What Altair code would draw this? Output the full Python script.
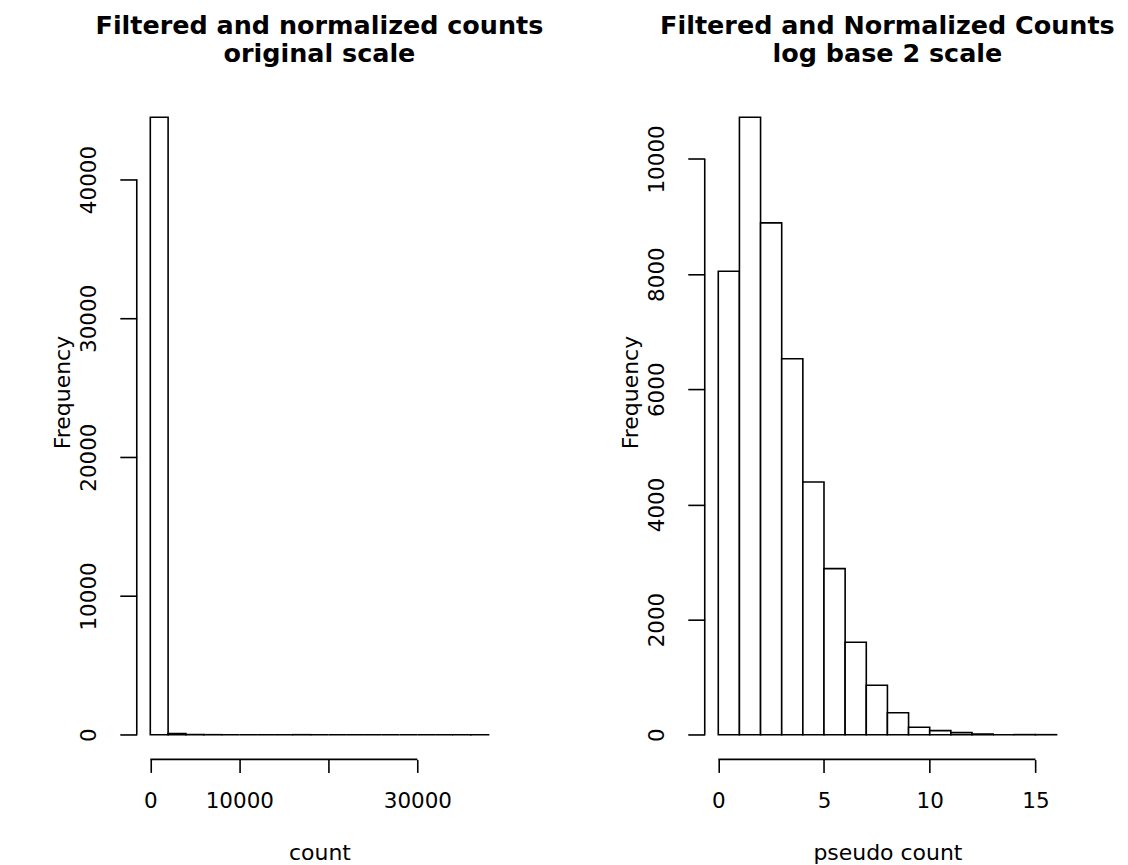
import altair as alt
import pandas as pd

# ---- data ----
left_breaks = [0, 2000, 4000, 6000, 8000, 10000, 12000, 14000, 16000, 18000, 20000,
               22000, 24000, 26000, 28000, 30000, 32000, 34000, 36000, 38000]
left_counts = [44480, 90, 8, 3, 0, 0, 0, 0, 2, 0, 0, 0, 0, 0, 0, 0, 0, 1, 1]

right_breaks = [0, 1, 2, 3, 4, 5, 6, 7, 8, 9, 10, 11, 12, 13, 14, 15, 16]
right_counts = [8050, 10723, 8890, 6530, 4390, 2885, 1605, 858, 382, 130, 72, 36, 12, 0, 2, 1]

left_xticks = [0, 10000, 20000, 30000]
left_hidden_labels = [20000]
left_yticks = [0, 10000, 20000, 30000, 40000]
right_xticks = [0, 5, 10, 15]
right_hidden_labels = []
right_yticks = [0, 2000, 4000, 6000, 8000, 10000]

left_title = ["Filtered and normalized counts", "original scale"]
right_title = ["Filtered and Normalized Counts", "log base 2 scale"]
left_xtitle = "count"
right_xtitle = "pseudo count"
ytitle = "Frequency"

# ---- styling ----
W, H = 366, 668
FONT = "DejaVu Sans"
LW = 1.6


def panel(breaks, counts, xticks, hidden, yticks, title, xtitle):
    df = pd.DataFrame({"lo": breaks[:-1], "hi": breaks[1:], "n": counts})
    xr = breaks[-1] - breaks[0]
    xdom = [breaks[0] - 0.04 * xr, breaks[-1] + 0.04 * xr]
    ymax = max(counts)
    ydom = [-0.04 * ymax, 1.04 * ymax]
    xs = alt.Scale(domain=xdom, nice=False, zero=False)
    ys = alt.Scale(domain=ydom, nice=False, zero=False)

    if hidden:
        expr = " || ".join(f"datum.value == {v}" for v in hidden)
        label_expr = f"({expr}) ? '' : datum.label"
    else:
        label_expr = "datum.label"

    xaxis = alt.Axis(
        values=xticks, format="d", labelExpr=label_expr, domain=False, grid=False,
        ticks=True, tickSize=13, tickWidth=LW, tickColor="black",
        labelFont=FONT, labelFontSize=21.5, labelColor="black", labelPadding=35,
        labelBaseline="alphabetic", labelAlign="center", labelOverlap=False,
        labelFlush=False, title=xtitle, titleFont=FONT, titleFontSize=22,
        titleFontWeight="normal", titleColor="black", titleX=W / 2, titleY=100,
        titleBaseline="alphabetic", titleAlign="center",
    )
    yaxis = alt.Axis(
        values=yticks, format="d", domain=False, grid=False,
        ticks=True, tickSize=17, tickWidth=LW, tickColor="black",
        labelFont=FONT, labelFontSize=21.5, labelColor="black", labelPadding=24,
        labelAngle=270, labelAlign="center", labelBaseline="alphabetic",
        labelOverlap=False, labelFlush=False,
        title=ytitle, titleFont=FONT, titleFontSize=22, titleFontWeight="normal",
        titleColor="black", titleAngle=270, titleX=-67, titleY=H / 2 - 34,
        titleBaseline="alphabetic", titleAlign="center",
    )

    base = alt.Chart(df)
    bars = base.mark_rect(fill="white", stroke="black", strokeWidth=LW).encode(
        x=alt.X("lo:Q", scale=xs, axis=xaxis),
        x2="hi:Q",
        y=alt.Y("n:Q", scale=ys, axis=yaxis),
        y2=alt.datum(0),
    )
    xline_df = pd.DataFrame({"a": [xticks[0]], "b": [xticks[-1]]})
    yline_df = pd.DataFrame({"a": [yticks[0]], "b": [yticks[-1]]})
    xline = alt.Chart(xline_df).mark_rule(color="black", strokeWidth=LW).encode(
        x=alt.X("a:Q", scale=xs, axis=xaxis), x2="b:Q", y=alt.value(H)
    )
    yline = alt.Chart(yline_df).mark_rule(color="black", strokeWidth=LW).encode(
        y=alt.Y("a:Q", scale=ys, axis=yaxis), y2="b:Q", x=alt.value(0)
    )
    return alt.layer(bars, xline, yline).properties(
        width=W, height=H,
        title=alt.TitleParams(
            text=title, font=FONT, fontSize=25.5, fontWeight="bold", color="black",
            anchor="middle", frame="group", lineHeight=28, offset=5,
            baseline="alphabetic",
        ),
    )


left = panel(left_breaks, left_counts, left_xticks, left_hidden_labels, left_yticks,
             left_title, left_xtitle)
right = panel(right_breaks, right_counts, right_xticks, right_hidden_labels, right_yticks,
              right_title, right_xtitle)

chart = alt.hconcat(left, right, spacing=203, bounds="flush").properties(
    padding={"left": 44, "top": 5, "right": 5, "bottom": 5}
).configure(background="white").configure_view(strokeWidth=0, strokeOpacity=0)

chart.save("out.html", embed_options={"renderer": "svg", "actions": False})
